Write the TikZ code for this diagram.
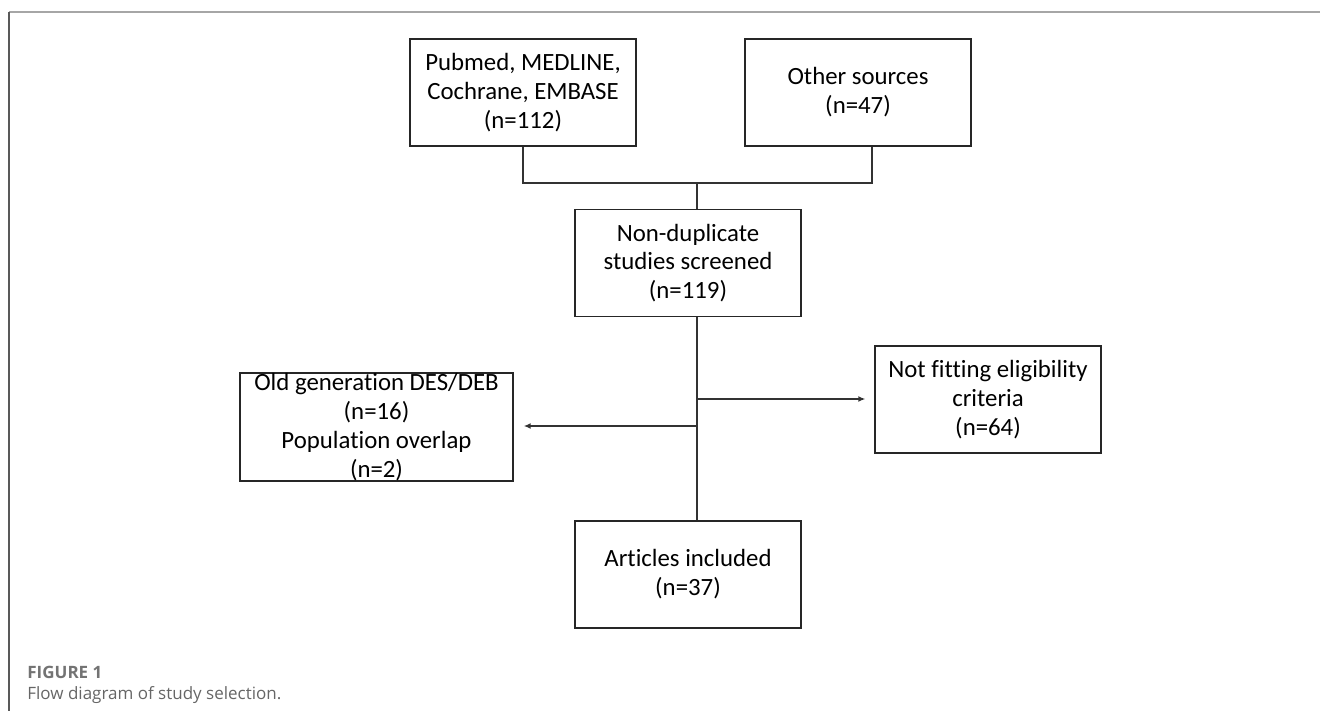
\documentclass[tikz,border=0pt]{standalone}
\usepackage{fontspec}
\setmainfont[Ligatures=NoCommon]{Carlito}
\newfontfamily\capfont{Open Sans}
\usetikzlibrary{arrows.meta}
\begin{document}
\begin{tikzpicture}[x=0.5pt,y=-0.5pt,
  box/.style={draw=black!85,line width=0.7pt,align=center,inner sep=0pt,
    minimum width=113pt,minimum height=53.5pt,font=\fontsize{12.4}{14.4}\selectfont},
  link/.style={draw=black!80,line width=0.7pt},
  arr/.style={link,-{Latex[length=3.5pt,width=3pt]}}]
\useasboundingbox (0,0) rectangle (1320,711);
\draw[black!35,line width=0.6pt] (9,12)--(1320,12);
\draw[black!65,line width=0.8pt] (9,12)--(9,711);

\node[box] (db) at (523,92.5) {Pubmed, MEDLINE,\\Cochrane, EMBASE\\(n=112)};
\node[box] (other) at (858,92.5) {Other sources\\(n=47)};
\node[box] (screen) at (688,263) {Non-duplicate\\studies screened\\(n=119)};
\node[box,minimum width=136.5pt,minimum height=54pt] (old) at (376.5,427) {Old generation DES/DEB\\(n=16)\\Population overlap\\(n=2)};
\node[box] (notfit) at (988,399.5) {Not fitting eligibility\\criteria\\(n=64)};
\node[box] (incl) at (688,574.5) {Articles included\\(n=37)};

\coordinate (jl) at (523,183);
\coordinate (jm) at (697,183);
\coordinate (jr) at (872,183);
\coordinate (br) at (697,399);
\coordinate (bl) at (697,426);

\draw[link] (db.south) -- (jl) -- (jr) -- (other.south -| jr);
\draw[link] (jm) -- (screen.north -| jm);
\draw[link] (screen.south -| jm) -- (incl.north -| jm);
\draw[arr] (br) -- ([xshift=-4.5pt]notfit.west |- br);
\draw[arr] (bl) -- ([xshift=5pt]old.east |- bl);

\node[anchor=west,inner sep=0pt,text=black!55,font=\capfont\bfseries\fontsize{8.5}{10}\selectfont] (fig) at (27,672) {FIGURE 1};
\node[anchor=west,inner sep=0pt,text=black!60,font=\capfont\fontsize{8.5}{10}\selectfont] (cap) at (27,695) {Flow diagram of study selection.};
\end{tikzpicture}
\end{document}
